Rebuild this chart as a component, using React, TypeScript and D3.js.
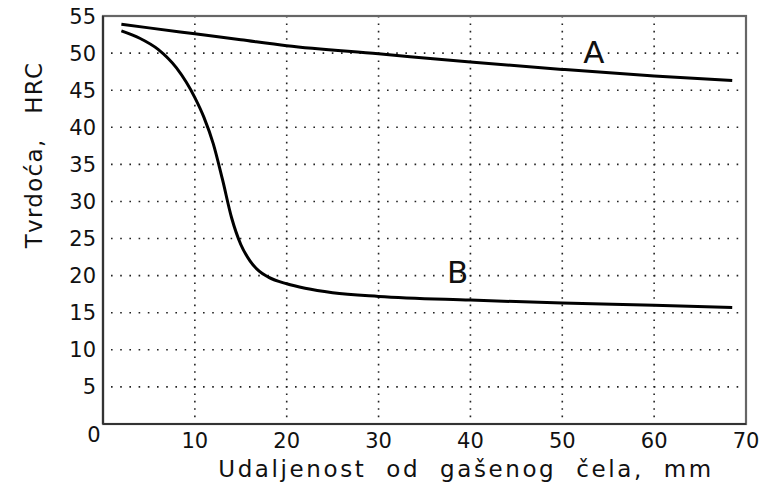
import React from "react";
import * as d3 from "d3";

const xTicks = [0, 10, 20, 30, 40, 50, 60, 70];
const yTicks = [0, 5, 10, 15, 20, 25, 30, 35, 40, 45, 50, 55];
const seriesAX = [2, 5, 10, 15, 20, 30, 40, 50, 60, 68.5];
const seriesAY = [53.9, 53.4, 52.6, 51.8, 51.0, 49.9, 48.8, 47.8, 46.9, 46.3];
const seriesBX = [2, 4, 6, 8, 10, 11, 12, 13, 14, 15, 16, 17, 18, 20, 22, 25, 30, 40, 50, 60, 68.5];
const seriesBY = [53.0, 52.0, 50.5, 48.0, 44.0, 41.3, 37.8, 33.0, 27.8, 24.2, 22.0, 20.6, 19.8, 18.9, 18.3, 17.7, 17.2, 16.7, 16.3, 16.0, 15.7];
const labels = [
  { text: "A", x: 53.45, y: 50.2 },
  { text: "B", x: 38.6, y: 20.5 },
];
const xTitle = "Udaljenost od gašenog čela, mm";
const yTitle = "Tvrdoća, HRC";

export default function App() {
  const W = 760, H = 486;
  const L = 103, R = 746, T = 16, B = 424;
  const x = d3.scaleLinear().domain([0, 70]).range([L, R]);
  const y = d3.scaleLinear().domain([0, 55]).range([B, T]);
  const line = d3.line<[number, number]>().x(d => x(d[0])).y(d => y(d[1])).curve(d3.curveMonotoneX);
  const a: [number, number][] = seriesAX.map((v, i) => [v, seriesAY[i]]);
  const b: [number, number][] = seriesBX.map((v, i) => [v, seriesBY[i]]);
  const font = "'DejaVu Sans', sans-serif";
  return (
    <svg width={W} height={H} style={{ position: "absolute", left: 0, top: 0 }} fontFamily={font}>
      <rect x={0} y={0} width={W} height={H} fill="#fff" />
      {yTicks.filter(t => t > 0 && t < 55).map(t => (
        <line key={"gy" + t} x1={L + 8} x2={R} y1={y(t)} y2={y(t)} stroke="#222" strokeWidth={1.6} strokeDasharray="1.6 7.6" />
      ))}
      {xTicks.filter(t => t > 0 && t < 70).map(t => (
        <line key={"gx" + t} x1={x(t)} x2={x(t)} y1={T} y2={B} stroke="#222" strokeWidth={1.6} strokeDasharray="1.6 5.8" />
      ))}
      <rect x={L} y={T} width={R - L} height={B - T} fill="none" stroke="#666" strokeWidth={2.2} />
      <line x1={L} x2={L} y1={T} y2={B} stroke="#333" strokeWidth={2.2} />
      <line x1={L} x2={R} y1={B} y2={B} stroke="#333" strokeWidth={2.2} />
      <path d={line(a) || ""} fill="none" stroke="#000" strokeWidth={3} />
      <path d={line(b) || ""} fill="none" stroke="#000" strokeWidth={3} />
      {yTicks.filter(t => t > 0).map(t => (
        <text key={"ty" + t} x={L - 7} y={y(t)} dy="0.36em" textAnchor="end" fontSize={21} fill="#111">{t}</text>
      ))}
      <text x={L - 9} y={B + 10.5} dy="0.36em" textAnchor="middle" fontSize={21} fill="#111">0</text>
      {xTicks.filter(t => t > 0).map(t => (
        <text key={"tx" + t} x={x(t)} y={B + 16.5} dy="0.36em" textAnchor="middle" fontSize={21} fill="#111">{t}</text>
      ))}
      {labels.map(l => (
        <text key={l.text} x={x(l.x)} y={y(l.y)} dy="0.365em" textAnchor="middle" fontSize={31} fill="#111">{l.text}</text>
      ))}
      <text x={466} y={477} textAnchor="middle" fontSize={23} letterSpacing={2.6} wordSpacing={10} fill="#111">{xTitle}</text>
      <text transform={`translate(42,155) rotate(-90)`} textAnchor="middle" fontSize={23} letterSpacing={1.3} wordSpacing={16} fill="#111">{yTitle}</text>
    </svg>
  );
}
